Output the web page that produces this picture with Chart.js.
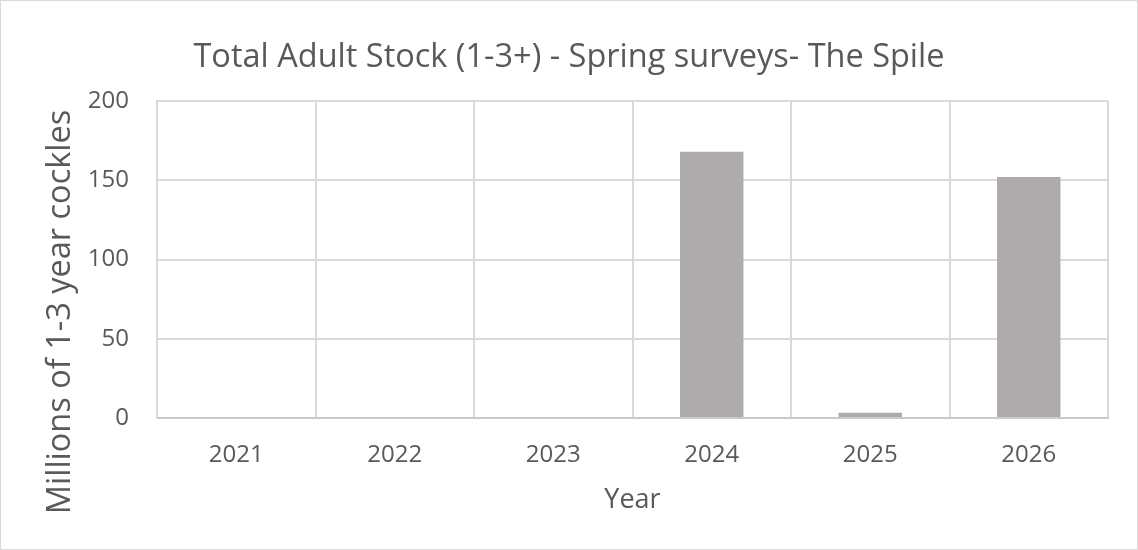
<!DOCTYPE html>
<html>
<head>
<meta charset="utf-8">
<script src="https://cdn.jsdelivr.net/npm/chart.js@4/dist/chart.umd.min.js"></script>
<style>
  html, body { margin: 0; padding: 0; background: #ffffff; }
  .chart-box {
    width: 1138px;
    height: 550px;
    box-sizing: border-box;
    border: 1px solid #D9D9D9;
  }
  canvas { display: block; }
</style>
</head>
<body>
<div class="chart-box">
  <canvas id="chart" width="1136" height="548"></canvas>
</div>
<script>
Chart.defaults.font.family = '"Open Sans", sans-serif';
Chart.defaults.color = '#595959';

// данные
const years = ['2021', '2022', '2023', '2024', '2025', '2026'];
const adultStock = [0, 0, 0, 168, 3.3, 152];
const yTicks = [0, 50, 100, 150, 200];

const chartTitle = 'Total Adult Stock (1-3+) - Spring surveys- The Spile';
const yTitle = 'Millions of 1-3 year cockles';
const xTitle = 'Year';

const gridColor = '#D9D9D9';
const barColor = '#AFABAB';

// подпись оси Y рисуем сами, она не по центру области графика
const yTitlePlugin = {
  id: 'yTitlePlugin',
  afterDraw(chart) {
    const ctx = chart.ctx;
    ctx.save();
    ctx.translate(69, 311);
    ctx.rotate(-Math.PI / 2);
    ctx.font = '32.5px "Open Sans", sans-serif';
    ctx.fillStyle = '#595959';
    ctx.textAlign = 'center';
    ctx.textBaseline = 'alphabetic';
    ctx.fillText(yTitle, 0, 0);
    ctx.restore();
  }
};

new Chart(document.getElementById('chart'), {
  type: 'bar',
  data: {
    labels: years,
    datasets: [{
      data: adultStock,
      backgroundColor: barColor,
      borderWidth: 0,
      barPercentage: 0.4,
      categoryPercentage: 1,
    }]
  },
  options: {
    responsive: false,
    animation: false,
    layout: {
      padding: { left: 29, right: 29, top: 0, bottom: 0 }
    },
    scales: {
      x: {
        grid: {
          display: true,
          color: gridColor,
          lineWidth: 2,
          drawTicks: false,
        },
        border: { color: '#C9C9C9', width: 2 },
        ticks: {
          padding: 23,
          font: { size: 24 },
        },
        title: {
          display: true,
          text: xTitle,
          font: { size: 27 },
          padding: { top: 4, bottom: 32 },
        },
        afterFit(scale) {
          scale.height = 131;
        }
      },
      y: {
        min: 0,
        max: 200,
        afterBuildTicks(scale) {
          scale.ticks = yTicks.map((v) => ({ value: v }));
        },
        grid: {
          color: gridColor,
          lineWidth: 2,
          drawTicks: false,
        },
        border: { color: gridColor, width: 2 },
        ticks: {
          padding: 28,
          font: { size: 24 },
        },
        afterFit(scale) {
          scale.width = 127;
        }
      }
    },
    plugins: {
      legend: { display: false },
      tooltip: { enabled: false },
      title: {
        display: true,
        text: chartTitle,
        color: '#595959',
        font: { size: 32.5, weight: 'normal' },
        padding: { top: 37, bottom: 24 },
      }
    }
  },
  plugins: [yTitlePlugin]
});
</script>
</body>
</html>
